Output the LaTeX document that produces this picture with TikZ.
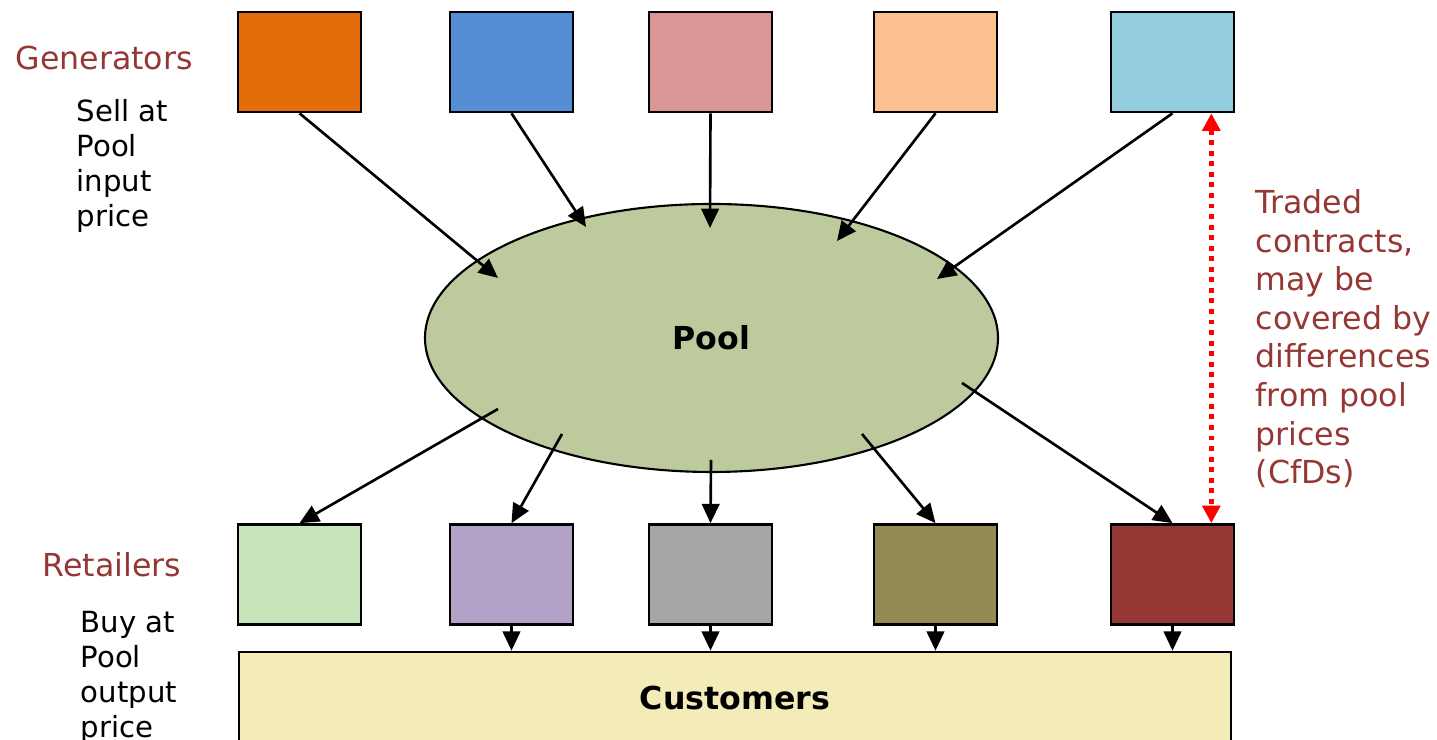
\documentclass[tikz,border=0pt]{standalone}
\usepackage{fontspec}
\setmainfont{DejaVu Sans}
\usetikzlibrary{arrows.meta,shapes.geometric}
\definecolor{genA}{HTML}{E46C0A}
\definecolor{genB}{HTML}{558ED5}
\definecolor{genC}{HTML}{D99694}
\definecolor{genD}{HTML}{FAC090}
\definecolor{genE}{HTML}{93CDDD}
\definecolor{retA}{HTML}{C6E5BB}
\definecolor{retB}{HTML}{B3A2C7}
\definecolor{retC}{HTML}{A6A6A6}
\definecolor{retD}{HTML}{948A54}
\definecolor{retE}{HTML}{953735}
\definecolor{poolgreen}{HTML}{BCCA9E}
\definecolor{custyellow}{HTML}{F3ECB8}
\definecolor{labred}{HTML}{953735}
\begin{document}
\begin{tikzpicture}[every node/.style={font=\fontsize{9}{11}\selectfont},
  unit/.style={draw,line width=0.75pt,minimum width=1.23cm,minimum height=1.0cm,inner sep=0pt},
  flow/.style={-{Triangle[length=5.5pt,width=5pt]},line width=0.75pt},
  lbl/.style={text=labred,inner sep=0pt,anchor=base west},
  note/.style={inner sep=0pt,anchor=base west,align=left,font=\fontsize{8.3}{10}\selectfont}]
  \clip (0,0) rectangle (14.37,7.40);
  % generators
  \node[unit,fill=genA] (g1) at (2.995,6.78) {};
  \node[unit,fill=genB] (g2) at (5.115,6.78) {};
  \node[unit,fill=genC] (g3) at (7.105,6.78) {};
  \node[unit,fill=genD] (g4) at (9.355,6.78) {};
  \node[unit,fill=genE] (g5) at (11.725,6.78) {};
  % retailers
  \node[unit,fill=retA] (r1) at (2.995,1.655) {};
  \node[unit,fill=retB] (r2) at (5.115,1.655) {};
  \node[unit,fill=retC] (r3) at (7.105,1.655) {};
  \node[unit,fill=retD] (r4) at (9.355,1.655) {};
  \node[unit,fill=retE] (r5) at (11.725,1.655) {};
  % pool and customers
  \node[draw,ellipse,fill=poolgreen,line width=0.6pt,minimum width=5.73cm,minimum height=2.68cm,font=\bfseries\fontsize{9}{11}\selectfont] (pool) at (7.115,4.02) {Pool};
  \node[draw,fill=custyellow,line width=0.75pt,minimum width=9.92cm,minimum height=0.92cm,font=\bfseries\fontsize{9}{11}\selectfont] (cust) at (7.35,0.42) {Customers};
  % ends of the arrows inside the pool
  \coordinate (in1) at (4.98,4.62);
  \coordinate (in2) at (5.86,5.13);
  \coordinate (in3) at (7.10,5.12);
  \coordinate (in4) at (8.37,4.99);
  \coordinate (in5) at (9.37,4.61);
  \coordinate (out1) at (4.98,3.31);
  \coordinate (out2) at (5.62,3.06);
  \coordinate (out3) at (7.11,2.80);
  \coordinate (out4) at (8.62,3.06);
  \coordinate (out5) at (9.62,3.57);
  \foreach \i in {1,...,5} {
    \draw[flow] (g\i.south) -- (in\i);
    \draw[flow] (out\i) -- (r\i.north);
  }
  \foreach \i in {2,...,5}
    \draw[flow] (r\i.south) -- (r\i.south |- cust.north);
  % contracts
  \draw[red,line width=1.3pt,dash pattern=on 1.4pt off 1.6pt,{Triangle[length=5pt,width=5pt]}-{Triangle[length=5pt,width=5pt]}]
    ([xshift=-0.24cm]g5.south east) -- ([xshift=-0.24cm]r5.north east);
  % labels
  \node[lbl] (genlbl) at (0.15,6.70) {Generators};
  \node[note] (sell) at (0.76,5.13) {Sell at\\Pool\\input\\price};
  \node[lbl] (retlbl) at (0.42,1.63) {Retailers};
  \node[note] (buy) at (0.80,0.02) {Buy at\\Pool\\output\\price};
  \node[note,text=labred,font=\fontsize{9}{11}\selectfont] (cfd) at (12.55,2.56) {Traded\\contracts,\\may be\\covered by\\differences\\from pool\\prices\\(CfDs)};
\end{tikzpicture}
\end{document}
